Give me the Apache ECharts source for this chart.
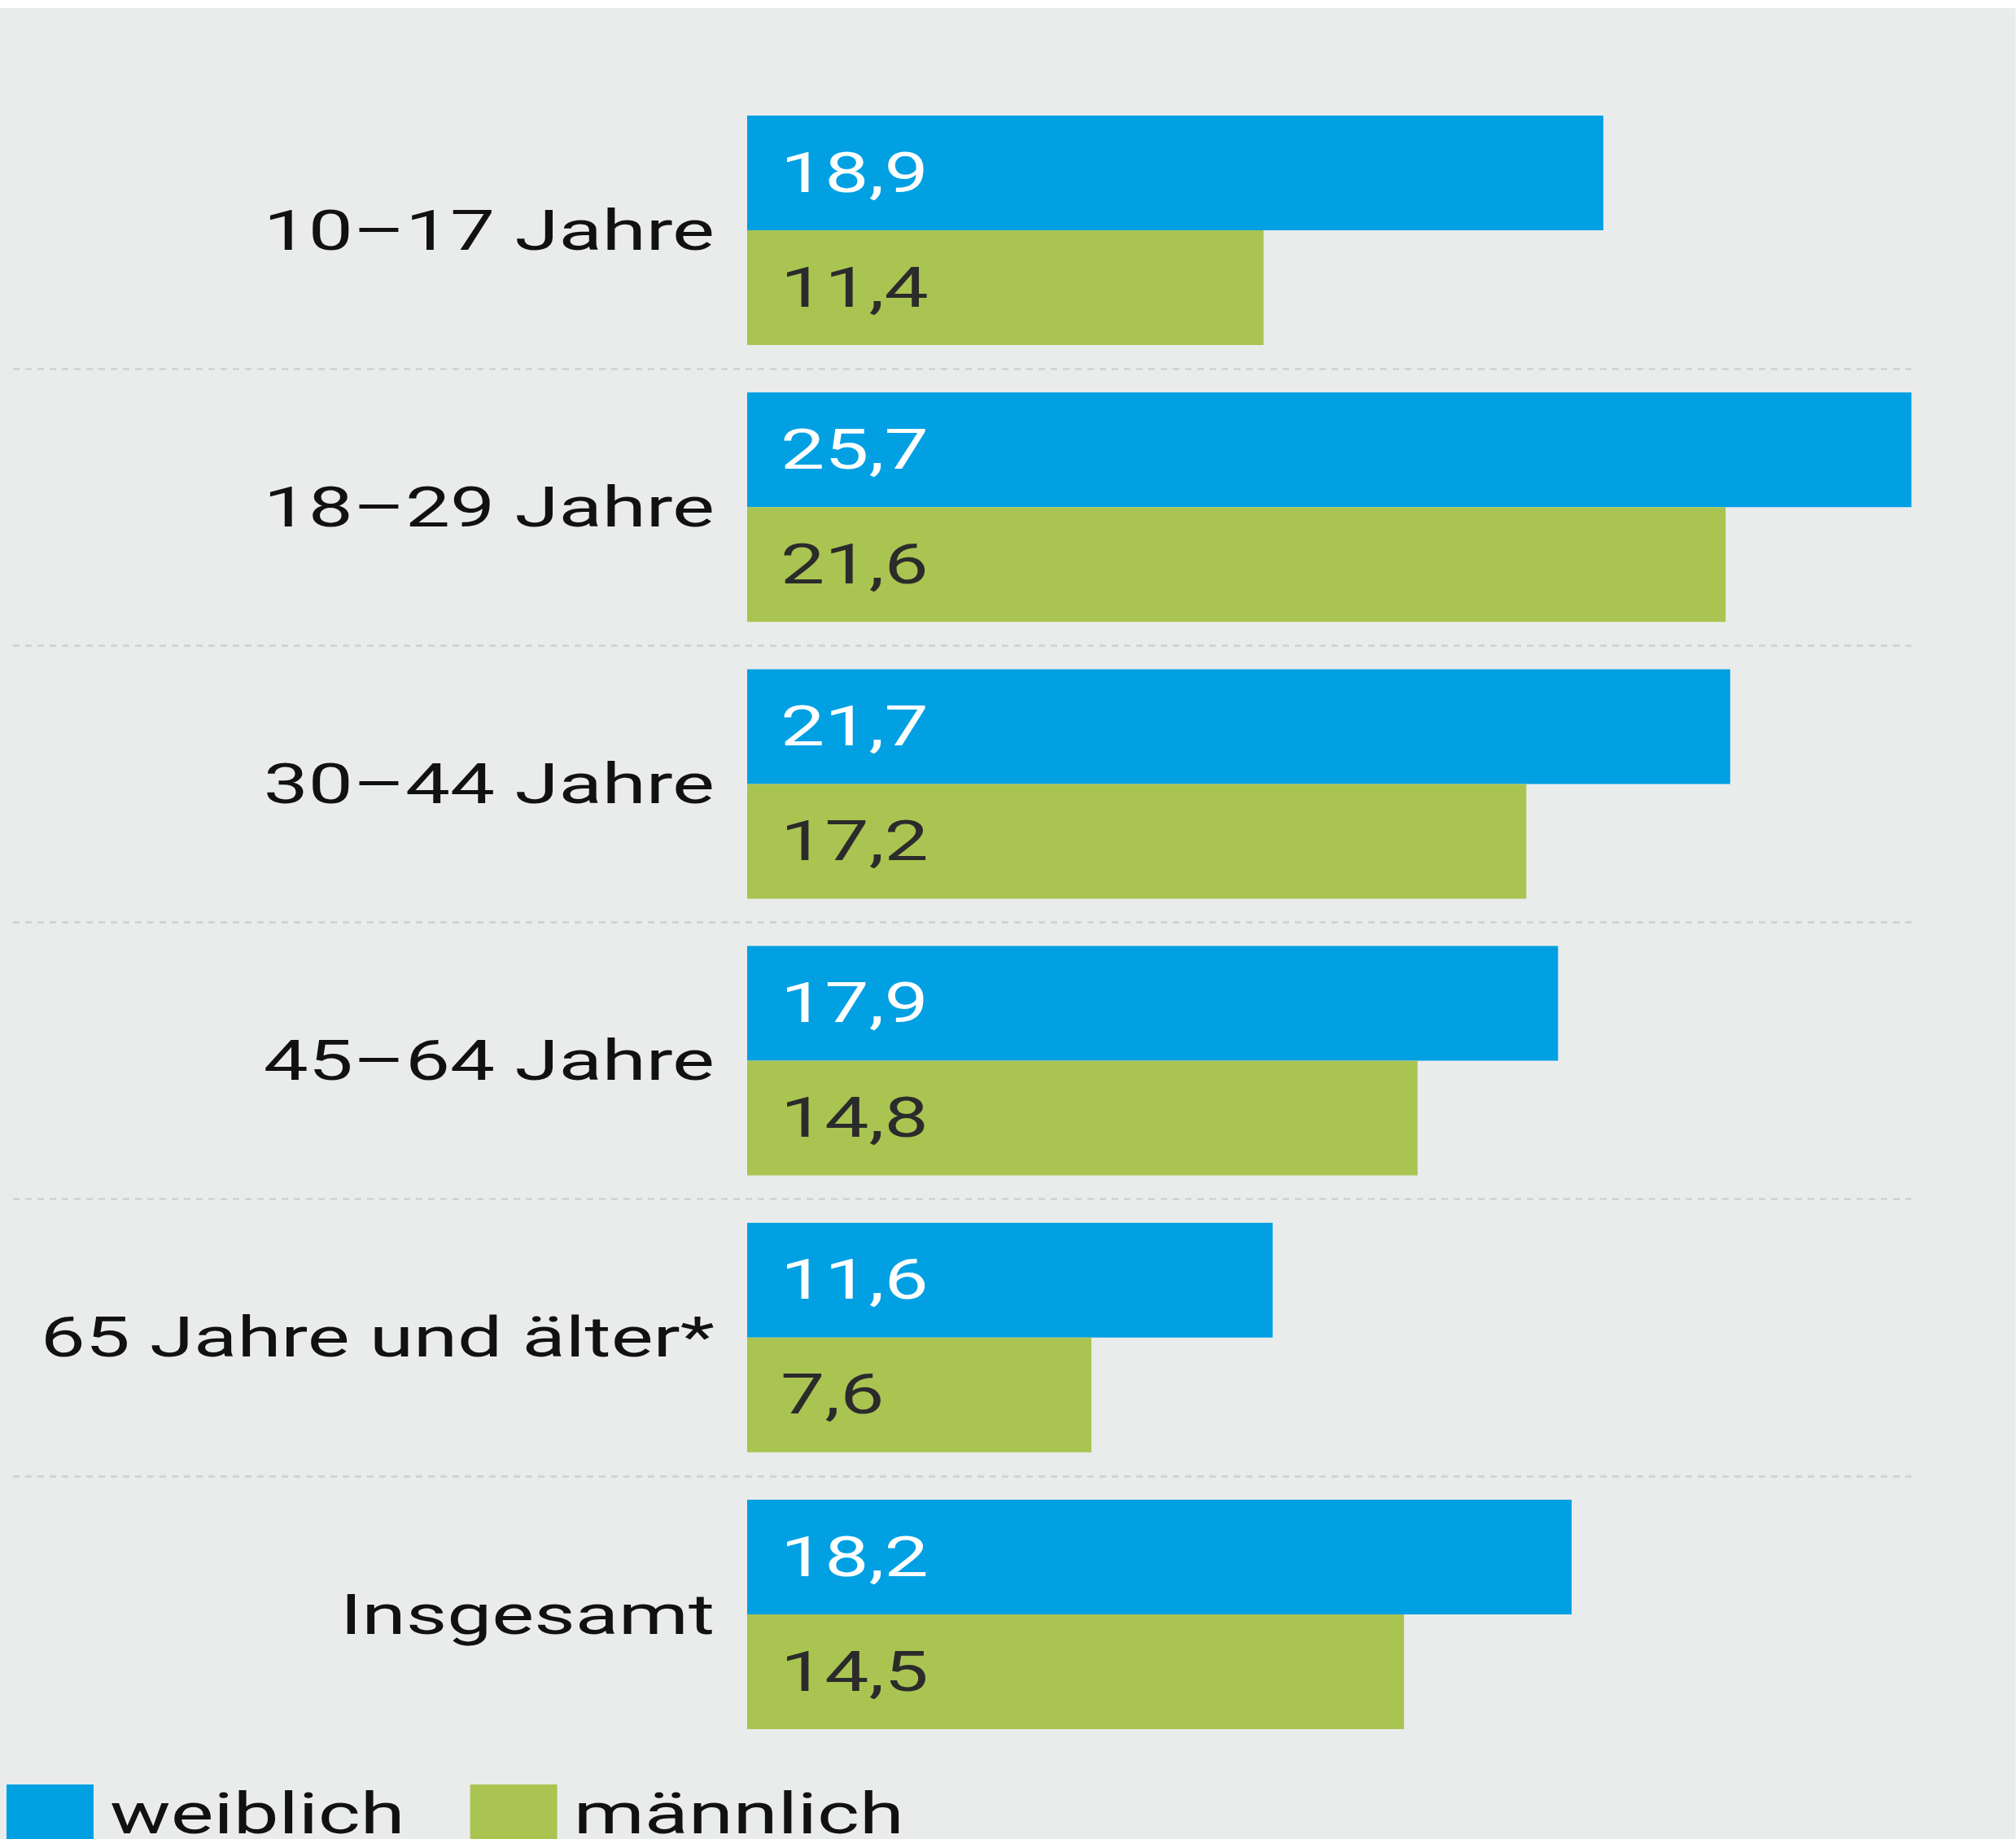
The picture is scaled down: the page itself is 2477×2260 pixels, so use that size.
<!DOCTYPE html>
<html lang="de">
<head>
    <meta charset="utf-8">
    <script src="https://cdn.jsdelivr.net/npm/echarts@6/dist/echarts.min.js"></script>
    <style>
        html,body{margin:0;padding:0;background:#fff;overflow:hidden;width:2477px;height:2260px;}
        /* the original picture is stretched sideways, so the chart is drawn narrow and widened */
        #main{position:absolute;left:0;top:10px;height:2250px;background:#eaeceb;transform-origin:0 0;}
    </style>
</head>
<body>
<div id="main"></div>
<script>
    var categories = ['10–17 Jahre', '18–29 Jahre', '30–44 Jahre', '45–64 Jahre', '65 Jahre und älter*', 'Insgesamt'];
    var weiblich = [18.9, 25.7, 21.7, 17.9, 11.6, 18.2];
    var maennlich = [11.4, 21.6, 17.2, 14.8, 7.6, 14.5];
    var seriesNames = ['weiblich', 'männlich'];

    var stretch = 1.42;
    var W = 2477 / stretch;
    var el = document.getElementById('main');
    el.style.width = W + 'px';
    el.style.transform = 'scaleX(' + stretch + ')';

    function sx(px) { return px / stretch; }   // full-size px -> inner px

    var font = 'Roboto';
    var fmt = function (p) { return String(p.value).replace('.', ','); };

    var myChart = echarts.init(el, null, {renderer: 'svg'});
    myChart.setOption({
        animation: false,
        backgroundColor: '#eaeceb',
        color: ['#00a0e3', '#aac452'],
        legend: {
            left: sx(8),
            top: 2183,
            padding: 0,
            itemWidth: sx(107),
            itemHeight: 72,
            itemGap: sx(80),
            icon: 'rect',
            textStyle: {fontFamily: font, fontSize: 70, color: '#111', padding: [0, 0, 0, sx(13)]},
            data: seriesNames
        },
        grid: [
            {left: sx(918), right: sx(128), top: 103, bottom: 106, containLabel: false},
            {left: sx(16), right: sx(128), top: 103, bottom: 106, containLabel: false}
        ],
        xAxis: [
            {type: 'value', min: 0, max: 'dataMax', show: false, gridIndex: 0},
            {type: 'value', min: 0, max: 1, show: false, gridIndex: 1}
        ],
        yAxis: [
            {
                type: 'category', data: categories, inverse: true, gridIndex: 0,
                axisLine: {show: false}, axisTick: {show: false}, splitLine: {show: false},
                axisLabel: {fontFamily: font, fontSize: 69, color: '#111', margin: sx(40)}
            },
            {
                type: 'category', data: categories, inverse: true, gridIndex: 1,
                axisLine: {show: false}, axisTick: {show: false}, axisLabel: {show: false},
                splitLine: {
                    show: true, showMinLine: false, showMaxLine: false,
                    lineStyle: {color: '#d3d5d5', width: 3, type: [sx(8), sx(7)]}
                }
            }
        ],
        series: [
            {
                name: seriesNames[0], type: 'bar', data: weiblich, barWidth: 141, barGap: '0%',
                xAxisIndex: 0, yAxisIndex: 0,
                label: {show: true, position: 'insideLeft', distance: sx(41), formatter: fmt,
                    fontFamily: font, fontSize: 68, color: '#fff'}
            },
            {
                name: seriesNames[1], type: 'bar', data: maennlich, barWidth: 141, barGap: '0%',
                xAxisIndex: 0, yAxisIndex: 0,
                label: {show: true, position: 'insideLeft', distance: sx(41), formatter: fmt,
                    fontFamily: font, fontSize: 68, color: '#2b2b2b'}
            }
        ]
    });
</script>
</body>
</html>
